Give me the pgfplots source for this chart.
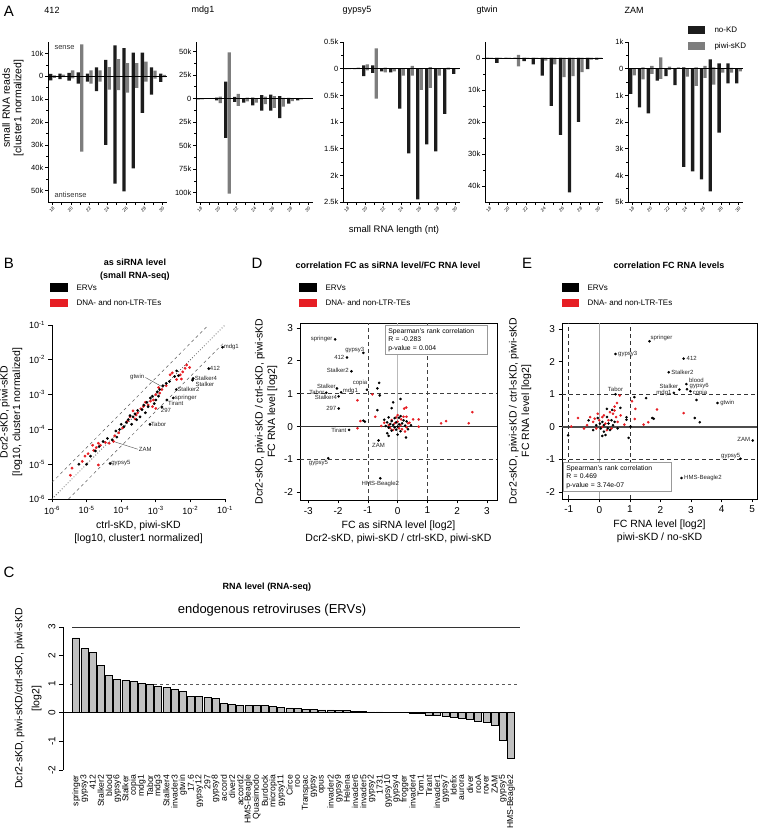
\documentclass[border=0pt]{standalone}
\usepackage{fontspec}
\setmainfont{Liberation Sans}
\usepackage{pgfplots}
\usepackage{pgfplotstable}
\pgfplotsset{compat=1.18}
\definecolor{ptred}{RGB}{230,30,36}
\definecolor{barblk}{RGB}{28,28,28}
\definecolor{bargry}{RGB}{125,125,125}
\definecolor{cbar}{RGB}{192,192,192}
\newcommand{\fs}[2]{\fontsize{#1}{#2}\selectfont}

% panel A: reads per length (k), sense up / antisense down
\pgfplotstableread{
L  bs    ba    gs    ga
18 1.0   1.8   0.4   0.7
19 1.2   1.2   0.7   0.4
20 1.5   1.9   2.6   0.9
21 1.7   3.2   14    33
22 1.2   2.3   2.6   3.2
23 3.9   6.5   2.6   2.3
24 7.2   30    4.0   5.8
25 13.5  47    7.5   6.1
26 12.3  50.4  5.8   7.2
27 10.4  40.3  5.8   5.1
28 10.4  16    6.4   2.3
29 3.9   8.0   2.5   1.0
30 1.2   2.5   0.6   0.4
}\tabAa
\pgfplotstableread{
L  bs    ba    gs    ga
18 0     1     0     1
19 0.3   0.5   0.3   0.5
20 1     2     2     5
21 18    42    49    101
22 1.7   3.5   5     8
23 0     4.5   1     3
24 1     7.3   0     4.5
25 3.5   13    2     6
26 4     13    2.4   10
27 2.4   21    0.7   8.7
28 0.7   5.5   0     2.8
29 0.3   2     0.2   1
30 0.2   0.5   0.1   0.5
}\tabAb
\pgfplotstableread{
L  bs    ba    gs    ga
18 0.01  0.01  0.01  0.01
19 0     0.01  0.02  0.01
20 0.06  0.14  0.08  0.03
21 0.06  0.08  0.38  0.56
22 0     0.05  0.02  0.07
23 0     0.07  0     0.05
24 0     0.75  0     0.13
25 0     1.59  0.05  0.13
26 0     2.45  0     0.40
27 0     1.42  0.03  0.36
28 0     1.55  0     0.13
29 0     0.85  0.02  0.02
30 0     0.10  0     0.01
}\tabAc
\pgfplotstableread{
L  bs    ba    gs    ga
18 0     0.2   0     0
19 0     1.5   0     0.2
20 0     0.3   0     0.2
21 0     0.2   1.0   2.6
22 0     1.0   0     0.3
23 0     2.0   0     0.3
24 0     5.5   0     0.8
25 0     15    0     2
26 0     24    0     6
27 0     42    0     5.7
28 0     20    0     4.4
29 0     3.5   0     0.5
30 0     0.5   0     0.2
}\tabAd
\pgfplotstableread{
L  bs    ba    gs    ga
18 0     0.95  0     0.25
19 0     1.45  0.05  0.40
20 0     1.68  0.10  0.20
21 0     0.45  0.42  0.38
22 0     0.28  0.08  0.05
23 0     0.62  0.05  0
24 0.05  3.68  0     0.30
25 0     3.85  0.05  0.65
26 0     4.15  0.10  0.35
27 0.35  4.60  0.05  0.60
28 0.20  2.40  0     0.15
29 0.20  0.55  0.03  0.15
30 0     0.55  0     0.10
}\tabAe

% panel B: as siRNA level
\pgfplotstableread{
x y
8.5e-2 2.3e-2
3.4e-2 5.6e-3
1.2e-2 2.9e-3
1.15e-2 2.6e-3
3.9e-3 1.4e-3
3.2e-3 8.0e-4
2.1e-3 7.0e-4
1.5e-3 4.4e-4
6.8e-4 1.4e-4
5.5e-5 5.0e-5
4.8e-5 1.05e-5
1.6e-3 1.8e-3
4.0e-3 4.8e-3
3.5e-3 3.3e-3
4.5e-3 3.5e-3
1.3e-3 1.4e-3
1.1e-3 1.2e-3
8.0e-4 9.0e-4
7.0e-4 8.0e-4
5.5e-4 6.0e-4
4.5e-4 5.0e-4
4.0e-4 3.7e-4
3.0e-4 3.5e-4
2.5e-4 2.8e-4
2.2e-4 2.3e-4
1.8e-4 2.5e-4
1.6e-4 1.9e-4
1.4e-4 1.6e-4
1.2e-4 1.2e-4
1.0e-4 1.4e-4
9.0e-5 1.0e-4
7.0e-5 9.0e-5
2.0e-4 1.4e-4
2.8e-4 1.9e-4
3.5e-4 2.3e-4
5.0e-4 3.0e-4
6.0e-4 4.5e-4
9.0e-4 5.5e-4
1.0e-3 7.0e-4
1.2e-3 9.0e-4
2.3e-5 3.2e-5
1.8e-5 2.4e-5
1.0e-5 1.0e-5
1.3e-5 1.7e-5
6.0e-6 1.0e-5
3.0e-5 4.5e-5
4.0e-5 5.5e-5
7.5e-5 6.0e-5
2.5e-3 2.4e-3
2.0e-3 2.1e-3
}\Bblk
\pgfplotstableread{
x y
7.0e-3 5.7e-3
6.0e-3 4.5e-3
7.8e-3 7.1e-3
5.1e-3 3.7e-3
2.6e-3 3.7e-3
3.0e-3 4.2e-3
5.5e-3 2.8e-3
9.5e-3 6.0e-3
1.5e-3 1.4e-3
1.3e-3 1.1e-3
1.0e-3 1.0e-3
8.5e-4 7.0e-4
7.0e-4 6.5e-4
6.0e-4 5.0e-4
4.4e-4 4.6e-4
3.7e-4 3.9e-4
3.0e-4 3.0e-4
2.5e-4 2.0e-4
2.2e-4 3.4e-4
1.8e-4 2.3e-4
1.5e-4 1.7e-4
1.1e-4 1.1e-4
8.5e-5 8.0e-5
6.5e-5 6.5e-5
6.0e-5 4.5e-5
4.5e-5 4.0e-5
3.5e-5 4.2e-5
2.5e-5 3.5e-5
2.2e-5 4.0e-5
1.9e-5 3.0e-5
1.6e-5 2.5e-5
1.5e-5 3.5e-5
1.1e-5 2.0e-5
9.0e-6 1.7e-5
7.5e-6 1.2e-5
3.8e-6 7.7e-6
3.4e-6 4.8e-6
2.2e-5 9.5e-6
5.0e-4 6.0e-4
1.2e-3 1.6e-3
2.0e-3 1.8e-3
8.0e-4 4.5e-4
1.0e-3 4.0e-4
2.7e-4 2.6e-4
4.0e-3 2.7e-3
}\Bred

% panel D
\pgfplotstableread{
x y
-2.1 2.65
-1.15 2.24
-1.7 2.1
-1.55 1.68
-2.04 1.16
-2.4 1.03
-1.9 1.04
-1.03 1.12
-1.98 0.92
-1.98 0.55
-1.63 -0.1
-0.64 -0.42
-2.33 -0.96
-0.58 -1.57
-0.62 1.33
-0.68 1.16
-0.6 0.95
0.1 0.84
-0.15 0.74
-0.2 0.56
-0.68 0.5
0.1 0.32
-0.3 0.28
0.05 0.27
-0.1 0.26
-1.15 0.18
-1.1 0.15
-0.45 0.21
0.2 0.19
-0.2 0.17
0.3 0.16
-0.05 0.13
-0.35 0.13
0.15 0.1
-0.25 0.08
0.05 0.07
-0.15 0.05
0.45 0.04
0.25 0.03
-0.4 0.02
0.0 0.0
-0.1 -0.02
-0.3 -0.03
0.35 -0.08
-0.05 -0.09
-0.2 -0.12
0.1 -0.14
-0.35 -0.2
0.0 -0.24
0.28 -0.33
-0.3 -0.28
}\Dblk
\pgfplotstableread{
x y
-1.35 0.8
-1.35 -0.05
-1.25 0.17
-0.75 0.3
0.22 0.55
0.29 0.58
0.52 0.22
0.71 0.22
0.71 0.0
1.46 0.1
1.63 0.17
2.39 0.1
2.51 0.44
-0.85 0.98
-0.55 0.02
-0.45 0.12
-0.3 0.05
-0.2 0.2
-0.1 0.1
0.0 0.15
0.05 -0.05
0.1 0.05
0.2 0.3
0.15 -0.08
0.3 -0.02
0.35 0.1
-0.15 -0.1
0.0 0.35
0.25 -0.15
-0.05 0.28
0.4 0.12
-0.25 -0.05
0.12 0.22
0.3 0.3
}\Dred

% panel E
\pgfplotstableread{
x y
1.64 2.62
0.53 2.23
2.76 2.09
2.27 1.67
2.85 1.31
2.87 1.15
2.98 1.09
2.62 1.14
2.44 1.04
0.53 1.0
3.87 0.73
5.02 -0.42
4.62 -0.98
2.69 -1.57
3.18 0.82
3.12 0.27
3.29 0.14
1.15 0.91
1.53 0.88
1.73 0.27
1.78 0.25
0.89 0.29
0.89 0.22
0.96 -0.34
1.02 0.01
-1.02 -0.26
0.69 0.58
0.42 0.52
0.25 0.55
-0.35 0.2
-0.05 0.27
0.1 0.15
-0.1 0.05
0.05 -0.05
0.15 -0.15
0.2 -0.25
0.3 0.1
0.35 -0.1
0.45 0.05
0.6 -0.05
0.1 -0.28
-0.2 -0.1
0.25 0.3
0.4 0.2
0.02 0.1
0.5 0.15
0.15 0.05
0.28 -0.05
}\Eblk
\pgfplotstableread{
x y
0.67 0.96
1.07 0.78
1.18 0.55
1.89 0.53
2.76 0.42
1.16 0.24
1.45 0.07
1.6 0.14
0.82 0.07
0.58 0.73
-0.7 0.27
-0.92 0.01
0.5 0.62
0.45 0.4
-0.4 0.05
-0.3 0.3
-0.2 0.15
-0.1 -0.05
0.0 0.2
0.1 0.3
0.2 0.1
0.3 0.2
0.15 0.35
0.35 0.45
0.55 0.3
0.6 0.15
0.7 0.35
0.4 -0.05
0.25 -0.1
-0.05 0.4
0.1 0.0
0.5 0.5
-0.5 -0.05
-0.15 0.25
}\Ered

\pgfplotsset{
  /pgf/number format/assume math mode=true,
  pa/.style={scale only axis, anchor=south west, height=160pt, clip=false,
    axis x line*=bottom, axis y line*=left,
    axis line style={-, line width=0.8pt},
    xmin=17.5, xmax=30.5, xtick={18,...,30},
    xticklabels={18,,20,,22,,24,,26,,28,,30},
    x tick label style={font=\fs{4.5}{5}, rotate=45, anchor=north east, inner sep=1pt},
    y tick label style={font=\fs{7.5}{9}, inner sep=1.5pt},
    tick align=outside, major tick length=3pt, minor tick length=1.8pt,
    every tick/.style={black, line width=0.6pt},
    minor y tick num=1},
  bk/.style={ybar, bar width=3.3pt, bar shift=-1.75pt, fill=barblk, draw=none},
  gr/.style={ybar, bar width=3.3pt, bar shift=1.75pt, fill=bargry, draw=none},
  sc/.style={scale only axis, anchor=south west, clip=false,
    axis line style={line width=0.9pt},
    tick align=outside, xtick pos=left, ytick pos=left,
    major tick length=3.5pt, every tick/.style={black, line width=0.7pt},
    tick label style={font=\fs{10}{12}},
    label style={font=\fs{10.5}{12.5}, align=center}},
}
\tikzset{lbl/.style={font=\fs{6}{6.5}, inner sep=1pt, text=black!85}}

\begin{document}
\begin{tikzpicture}
\path[use as bounding box] (0pt,0pt) rectangle (758pt,829pt);

% ---------------- A ----------------
\node[font=\fs{15}{15}] at (9pt,818pt) {A};
\node[font=\fs{9}{10}] at (52pt,819pt) {412};
\node[font=\fs{9}{10}] at (203pt,819pt) {mdg1};
\node[font=\fs{9}{10}] at (357pt,819pt) {gypsy5};
\node[font=\fs{9}{10}] at (487pt,819pt) {gtwin};
\node[font=\fs{9}{10}] at (634pt,819pt) {ZAM};
\node[rotate=90, align=center, font=\fs{10.5}{11.5}] at (13pt,721pt) {small RNA reads\\{}[cluster1 normalized]};
\node[font=\fs{9.5}{11}] at (394pt,599pt) {small RNA length (nt)};
\fill[barblk] (688pt,795pt) rectangle (705pt,803pt);
\node[anchor=west, font=\fs{8}{9}] at (711pt,799pt) {no-KD};
\fill[bargry] (688pt,779pt) rectangle (705pt,787pt);
\node[anchor=west, font=\fs{8}{9}] at (711pt,783pt) {piwi-sKD};

\begin{axis}[pa, at={(48pt,627pt)}, width=119pt, ymin=-55, ymax=15,
  ytick={-50,-40,-30,-20,-10,0,10}, yticklabels={50k,40k,30k,20k,10k,0,10k}]
\addplot[bk] table[x=L, y=bs]{\tabAa};
\addplot[bk] table[x=L, y expr=-\thisrow{ba}]{\tabAa};
\addplot[gr] table[x=L, y=gs]{\tabAa};
\addplot[gr] table[x=L, y expr=-\thisrow{ga}]{\tabAa};
\addplot[black, line width=0.6pt] coordinates {(17.5,0) (30.5,0)};
\end{axis}
\node[anchor=west, font=\fs{7.5}{8}, text=black!80] at (51pt,781pt) {sense};
\node[anchor=west, font=\fs{7.5}{8}, text=black!80] at (51pt,634pt) {antisense};

\begin{axis}[pa, at={(196pt,627pt)}, width=117pt, ymin=-110, ymax=60,
  ytick={-100,-75,-50,-25,0,25,50}, yticklabels={100k,75k,50k,25k,0,25k,50k}]
\addplot[bk] table[x=L, y=bs]{\tabAb};
\addplot[bk] table[x=L, y expr=-\thisrow{ba}]{\tabAb};
\addplot[gr] table[x=L, y=gs]{\tabAb};
\addplot[gr] table[x=L, y expr=-\thisrow{ga}]{\tabAb};
\addplot[black, line width=0.6pt] coordinates {(17.5,0) (30.5,0)};
\end{axis}

\begin{axis}[pa, at={(343pt,627pt)}, width=117pt, ymin=-2.5, ymax=0.5,
  ytick={-2.5,-2,-1.5,-1,-0.5,0,0.5}, yticklabels={2.5k,2k,1.5k,1k,0.5k,0,0.5k}]
\addplot[bk] table[x=L, y=bs]{\tabAc};
\addplot[bk] table[x=L, y expr=-\thisrow{ba}]{\tabAc};
\addplot[gr] table[x=L, y=gs]{\tabAc};
\addplot[gr] table[x=L, y expr=-\thisrow{ga}]{\tabAc};
\addplot[black, line width=0.6pt] coordinates {(17.5,0) (30.5,0)};
\end{axis}

\begin{axis}[pa, at={(485pt,627pt)}, width=118pt, ymin=-45, ymax=5,
  ytick={-40,-30,-20,-10,0}, yticklabels={40k,30k,20k,10k,0}]
\addplot[bk] table[x=L, y=bs]{\tabAd};
\addplot[bk] table[x=L, y expr=-\thisrow{ba}]{\tabAd};
\addplot[gr] table[x=L, y=gs]{\tabAd};
\addplot[gr] table[x=L, y expr=-\thisrow{ga}]{\tabAd};
\addplot[black, line width=0.6pt] coordinates {(17.5,0) (30.5,0)};
\end{axis}

\begin{axis}[pa, at={(628pt,627pt)}, width=115pt, ymin=-5, ymax=1,
  ytick={-5,-4,-3,-2,-1,0,1}, yticklabels={5k,4k,3k,2k,1k,0,1k}]
\addplot[bk] table[x=L, y=bs]{\tabAe};
\addplot[bk] table[x=L, y expr=-\thisrow{ba}]{\tabAe};
\addplot[gr] table[x=L, y=gs]{\tabAe};
\addplot[gr] table[x=L, y expr=-\thisrow{ga}]{\tabAe};
\addplot[black, line width=0.6pt] coordinates {(17.5,0) (30.5,0)};
\end{axis}

% ---------------- B ----------------
\node[font=\fs{15}{15}] at (9pt,566pt) {B};
\node[align=center, font=\bfseries\fs{9}{13}] at (135pt,559pt) {as siRNA level\\(small RNA-seq)};
\fill[black] (50pt,537pt) rectangle (68pt,546pt);
\node[anchor=west, font=\fs{8}{9}] at (73pt,541.5pt) {ERVs};
\fill[ptred] (50pt,522pt) rectangle (68pt,530pt);
\node[anchor=west, font=\fs{8}{9}] at (73pt,526pt) {DNA- and non-LTR-TEs};

\begin{axis}[sc, at={(52pt,330pt)}, width=173pt, height=174pt,
  xmode=log, ymode=log, xmin=1e-6, xmax=1e-1, ymin=1e-6, ymax=1e-1,
  axis x line*=bottom, axis y line*=left, axis line style={-},
  xminorticks=false, yminorticks=false,
  xtick={1e-6,1e-5,1e-4,1e-3,1e-2,1e-1}, ytick={1e-6,1e-5,1e-4,1e-3,1e-2,1e-1},
  xticklabels={10\textsuperscript{-6},10\textsuperscript{-5},10\textsuperscript{-4},10\textsuperscript{-3},10\textsuperscript{-2},10\textsuperscript{-1}},
  yticklabels={10\textsuperscript{-6},10\textsuperscript{-5},10\textsuperscript{-4},10\textsuperscript{-3},10\textsuperscript{-2},10\textsuperscript{-1}},
  tick label style={font=\fs{9}{10}},
  xlabel={ctrl-sKD, piwi-sKD\\{}[log10, cluster1 normalized]},
  ylabel={Dcr2-sKD, piwi-sKD\\{}[log10, cluster1 normalized]}]
\addplot[dashed, gray!70!black, line width=0.5pt] coordinates {(1e-6,3e-6) (3.333e-2,1e-1)};
\addplot[dashed, gray!70!black, line width=0.5pt] coordinates {(3e-6,1e-6) (1e-1,3.333e-2)};
\addplot[dotted, gray!70!black, line width=0.8pt] coordinates {(1e-6,1e-6) (1e-1,1e-1)};
\addplot[only marks, mark=*, mark size=1.2pt, ptred] table{\Bred};
\addplot[only marks, mark=*, mark size=1.2pt, black] table{\Bblk};
\node[lbl, anchor=west] at (axis cs:8.5e-2,2.3e-2) {mdg1};
\node[lbl, anchor=west] at (axis cs:3.4e-2,5.6e-3) {412};
\node[lbl, anchor=west] at (axis cs:1.25e-2,3.0e-3) {Stalker4};
\node[lbl, anchor=north west] at (axis cs:1.3e-2,2.5e-3) {Stalker};
\node[lbl, anchor=west] at (axis cs:3.9e-3,1.4e-3) {Stalker2};
\node[lbl, anchor=west] at (axis cs:3.3e-3,8.0e-4) {springer};
\node[lbl, anchor=north west] at (axis cs:2.1e-3,7.0e-4) {Tirant};
\node[lbl, anchor=north west] at (axis cs:1.3e-3,4.4e-4) {297};
\node[lbl, anchor=west] at (axis cs:6.8e-4,1.4e-4) {Tabor};
\node[lbl, anchor=west] at (axis cs:4.8e-5,1.05e-5) {gypsy5};
\draw[black!70, line width=0.4pt] (axis cs:6e-5,4.5e-5) -- (axis cs:3e-4,2.7e-5);
\node[lbl, anchor=west] at (axis cs:3e-4,2.7e-5) {ZAM};
\draw[black!70, line width=0.4pt] (axis cs:1.5e-3,1.7e-3) -- (axis cs:5e-4,3.1e-3);
\node[lbl, anchor=east] at (axis cs:5e-4,3.2e-3) {gtwin};
\end{axis}

% ---------------- D ----------------
\node[font=\fs{15}{15}] at (257pt,566pt) {D};
\node[font=\bfseries\fs{9}{10}] at (388pt,564pt) {correlation FC as siRNA level/FC RNA level};
\fill[black] (299pt,537pt) rectangle (317pt,546pt);
\node[anchor=west, font=\fs{8}{9}] at (322pt,541.5pt) {ERVs};
\fill[ptred] (299pt,522pt) rectangle (317pt,530pt);
\node[anchor=west, font=\fs{8}{9}] at (322pt,526pt) {DNA- and non-LTR-TEs};

\begin{axis}[sc, at={(300pt,329pt)}, width=197pt, height=177pt,
  xmin=-3.28, xmax=3.34, ymin=-2.23, ymax=3.15,
  xtick={-3,...,3}, ytick={-2,...,3},
  xlabel={FC as siRNA level [log2]\\Dcr2-sKD, piwi-sKD / ctrl-sKD, piwi-sKD},
  ylabel={Dcr2-sKD, piwi-sKD / ctrl-sKD, piwi-sKD\\FC RNA level [log2]}]
\addplot[gray!55, line width=1pt] coordinates {(0,-2.23) (0,3.15)};
\addplot[black!80, line width=0.9pt] coordinates {(-3.28,0) (3.34,0)};
\addplot[black!75, dashed, dash pattern=on 4pt off 3pt, line width=0.6pt] coordinates {(-1,-2.23) (-1,3.15)};
\addplot[black!75, dashed, dash pattern=on 4pt off 3pt, line width=0.6pt] coordinates {(1,-2.23) (1,3.15)};
\addplot[black!75, dashed, dash pattern=on 4pt off 3pt, line width=0.6pt] coordinates {(-3.28,1) (3.34,1)};
\addplot[black!75, dashed, dash pattern=on 4pt off 3pt, line width=0.6pt] coordinates {(-3.28,-1) (3.34,-1)};
\addplot[only marks, mark=*, mark size=1.1pt, ptred] table{\Dred};
\addplot[only marks, mark=*, mark size=1.1pt, black] table{\Dblk};
\node[lbl, anchor=east] at (axis cs:-2.15,2.67) {springer};
\node[lbl, anchor=south east] at (axis cs:-1.08,2.22) {gypsy3};
\node[lbl, anchor=east] at (axis cs:-1.75,2.1) {412};
\node[lbl, anchor=east] at (axis cs:-1.6,1.7) {Stalker2};
\node[lbl, anchor=south east] at (axis cs:-2.04,1.12) {Stalker};
\node[lbl, anchor=east] at (axis cs:-2.42,1.03) {Tabor};
\node[lbl, anchor=west] at (axis cs:-1.88,1.08) {mdg1};
\node[lbl, anchor=south east] at (axis cs:-0.98,1.22) {copia};
\node[lbl, anchor=east] at (axis cs:-2.0,0.88) {Stalker4};
\node[lbl, anchor=east] at (axis cs:-2.02,0.55) {297};
\node[lbl, anchor=east] at (axis cs:-1.68,-0.12) {Tirant};
\node[lbl, anchor=north] at (axis cs:-0.64,-0.48) {ZAM};
\node[lbl, anchor=north east] at (axis cs:-2.3,-0.98) {gypsy5};
\node[lbl, anchor=north] at (axis cs:-0.58,-1.62) {HMS-Beagle2};
\end{axis}
\node[draw=gray!80, line width=0.8pt, fill=white, anchor=north west, text width=96pt,
  inner sep=3pt, align=left, font=\fs{6.8}{8.5}] at (385pt,504pt)
  {Spearman's rank correlation\\R = -0.283\\p-value = 0.004};

% ---------------- E ----------------
\node[font=\fs{15}{15}] at (527pt,566pt) {E};
\node[font=\bfseries\fs{9}{10}] at (669pt,564pt) {correlation FC RNA levels};
\fill[black] (562pt,537pt) rectangle (579pt,546pt);
\node[anchor=west, font=\fs{8}{9}] at (584pt,541.5pt) {ERVs};
\fill[ptred] (562pt,522pt) rectangle (579pt,530pt);
\node[anchor=west, font=\fs{8}{9}] at (584pt,526pt) {DNA- and non-LTR-TEs};

\begin{axis}[sc, at={(562pt,330pt)}, width=195pt, height=176pt,
  xmin=-1.22, xmax=5.16, ymin=-2.21, ymax=3.18,
  xtick={-1,...,5}, ytick={-2,...,3}, ylabel shift=8pt,
  xlabel={FC RNA level [log2]\\piwi-sKD / no-sKD},
  ylabel={Dcr2-sKD, piwi-sKD / ctrl-sKD, piwi-sKD\\FC RNA level [log2]}]
\addplot[gray!70, line width=0.6pt] coordinates {(0,-2.21) (0,3.18)};
\addplot[gray!60!black, line width=1.4pt] coordinates {(-1.22,0) (5.16,0)};
\addplot[black!80, dashed, dash pattern=on 4pt off 3pt, line width=0.6pt] coordinates {(-1,-2.21) (-1,3.18)};
\addplot[black!80, dashed, dash pattern=on 4pt off 3pt, line width=0.6pt] coordinates {(1,-2.21) (1,3.18)};
\addplot[black!80, dashed, dash pattern=on 4pt off 3pt, line width=0.6pt] coordinates {(-1.22,1) (5.16,1)};
\addplot[black!80, dashed, dash pattern=on 4pt off 3pt, line width=0.6pt] coordinates {(-1.22,-1) (5.16,-1)};
\addplot[only marks, mark=*, mark size=1.1pt, ptred] table{\Ered};
\addplot[only marks, mark=*, mark size=1.1pt, black] table{\Eblk};
\node[lbl, anchor=south west] at (axis cs:1.64,2.6) {springer};
\node[lbl, anchor=west] at (axis cs:0.58,2.23) {gypsy3};
\node[lbl, anchor=west] at (axis cs:2.82,2.09) {412};
\node[lbl, anchor=west] at (axis cs:2.32,1.67) {Stalker2};
\node[lbl, anchor=west] at (axis cs:2.9,1.42) {blood};
\node[lbl, anchor=west] at (axis cs:2.92,1.24) {gypsy6};
\node[lbl, anchor=west] at (axis cs:3.02,1.04) {copia};
\node[lbl, anchor=south east] at (axis cs:2.62,1.12) {Stalker};
\node[lbl, anchor=east] at (axis cs:2.4,1.03) {mdg1};
\node[lbl, anchor=south] at (axis cs:0.53,1.05) {Tabor};
\node[lbl, anchor=west] at (axis cs:3.92,0.73) {gtwin};
\node[lbl, anchor=east] at (axis cs:4.97,-0.4) {ZAM};
\node[lbl, anchor=south east] at (axis cs:4.65,-1.02) {gypsy5};
\node[lbl, anchor=west] at (axis cs:2.74,-1.57) {HMS-Beagle2};
\end{axis}
\node[draw=gray!80, line width=0.8pt, fill=white, anchor=north west, text width=102pt,
  inner sep=3pt, align=left, font=\fs{6.8}{8.5}] at (563pt,367pt)
  {Spearman's rank correlation\\R = 0.469\\p-value = 3.74e-07};

% ---------------- C ----------------
\node[font=\fs{15}{15}] at (9pt,257pt) {C};
\node[font=\bfseries\fs{9}{10}] at (267pt,242pt) {RNA level (RNA-seq)};
\node[font=\fs{13}{14}] at (272pt,219pt) {endogenous retroviruses (ERVs)};

\begin{axis}[scale only axis, anchor=south west, at={(63pt,59pt)}, width=457pt, height=143pt,
  clip=false, xmin=-0.6, xmax=55.1, ymin=-2, ymax=3,
  axis x line*=bottom, axis y line*=left,
  x axis line style={draw=none}, y axis line style={-, line width=0.8pt},
  major x tick style={draw=none},
  ytick={-2,...,3}, tick align=outside, major tick length=4pt,
  every tick/.style={black, line width=0.7pt},
  y tick label style={rotate=90, anchor=south, font=\fs{10}{12}},
  xtick={1,...,54},
  xticklabels={springer,gypsy3,412,Stalker2,blood,gypsy6,Stalker,copia,mdg1,Tabor,mdg3,Stalker4,invader3,gtwin,17.6,gypsy12,297,gypsy8,accord,diver2,accord2,HMS-Beagle,Quasimodo,Burdock,micropia,gypsy11,Circe,roo,Transpac,gypsy,opus,invader2,gypsy9,Helena,invader6,invader5,gypsy2,1731,gypsy10,gypsy4,frogger,invader4,Tom1,Tirant,invader1,gypsy7,Idefix,aurora,diver,rooA,rover,ZAM,gypsy5,HMS-Beagle2},
  x tick label style={rotate=90, anchor=east, font=\fs{8.6}{9}, inner sep=1pt},
  ylabel={Dcr2-sKD, piwi-sKD/ctrl-sKD, piwi-sKD\\{}[log2]},
  ylabel style={align=center, font=\fs{10.5}{17}}]
\addplot[black!80, line width=0.7pt] coordinates {(0.5,3) (55.1,3)};
\addplot[gray!70!black, dashed, dash pattern=on 3pt off 3pt, line width=0.7pt] coordinates {(0.3,1) (55.1,1)};
\addplot[ybar, bar width=7pt, fill=cbar, draw=black, line width=0.6pt] coordinates {
(1,2.62) (2,2.24) (3,2.10) (4,1.67) (5,1.32) (6,1.16) (7,1.14) (8,1.10) (9,1.04) (10,1.00)
(11,0.92) (12,0.88) (13,0.83) (14,0.75) (15,0.58) (16,0.56) (17,0.54) (18,0.50) (19,0.32) (20,0.28)
(21,0.27) (22,0.26) (23,0.26) (24,0.25) (25,0.21) (26,0.19) (27,0.17) (28,0.16) (29,0.13) (30,0.13)
(31,0.10) (32,0.10) (33,0.08) (34,0.07) (35,0.05) (36,0.04) (37,0.03) (38,0.03) (39,0.02) (40,0.01)
(41,0.005) (42,-0.02) (43,-0.03) (44,-0.08) (45,-0.09) (46,-0.12) (47,-0.14) (48,-0.20) (49,-0.24) (50,-0.28)
(51,-0.33) (52,-0.42) (53,-0.97) (54,-1.58)};
\addplot[black, line width=0.7pt] coordinates {(-0.6,0) (54.5,0)};
\end{axis}
\end{tikzpicture}
\end{document}
